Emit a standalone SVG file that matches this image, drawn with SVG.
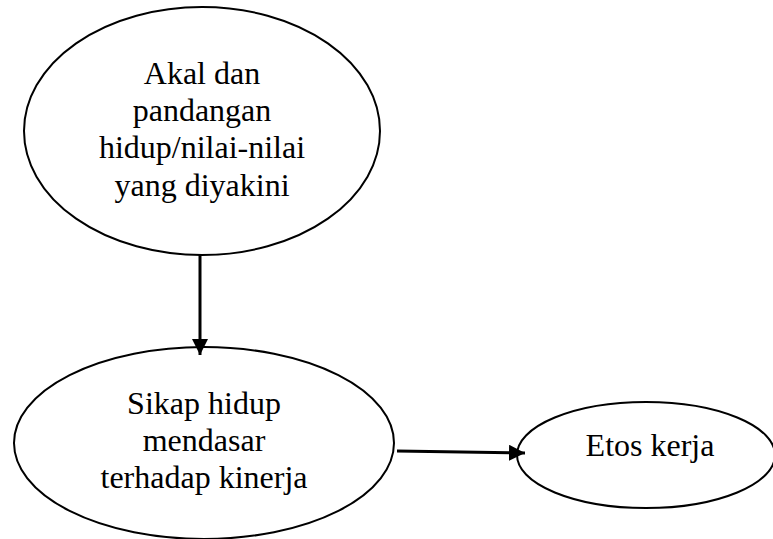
<svg xmlns="http://www.w3.org/2000/svg" width="773" height="539" viewBox="0 0 773 539">
  <style>
    .node ellipse { fill: #ffffff; stroke: #000000; stroke-width: 2; }
    .node text { font-family: "Liberation Serif", "Times New Roman", serif; font-size: 32px; fill: #000000; text-anchor: middle; }
    .conn line { stroke: #000000; stroke-width: 3; fill: none; }
  </style>
  <defs>
    <marker id="arrow" viewBox="0 0 10 10" refX="10" refY="5" markerWidth="16" markerHeight="16" markerUnits="userSpaceOnUse" orient="auto">
      <path d="M0,0 L10,5 L0,10 Z" fill="#000000"/>
    </marker>
  </defs>
  <rect width="773" height="539" fill="#ffffff"/>
  <g id="node-akal" class="node">
    <ellipse cx="202" cy="131" rx="178" ry="124"/>
    <text x="202" y="84">Akal dan</text>
    <text x="202" y="121">pandangan</text>
    <text x="202" y="158">hidup/nilai-nilai</text>
    <text x="202" y="196">yang diyakini</text>
  </g>
  <g id="node-sikap" class="node">
    <ellipse cx="204" cy="443" rx="190" ry="96"/>
    <text x="204" y="414">Sikap hidup</text>
    <text x="204" y="451">mendasar</text>
    <text x="204" y="488">terhadap kinerja</text>
  </g>
  <g id="node-etos" class="node">
    <ellipse cx="646" cy="455" rx="129" ry="53"/>
    <text x="650" y="456">Etos kerja</text>
  </g>
  <g id="connectors" class="conn">
    <line x1="200" y1="255" x2="200" y2="355" marker-end="url(#arrow)"/>
    <line x1="397" y1="451" x2="525" y2="453" marker-end="url(#arrow)"/>
  </g>
</svg>
